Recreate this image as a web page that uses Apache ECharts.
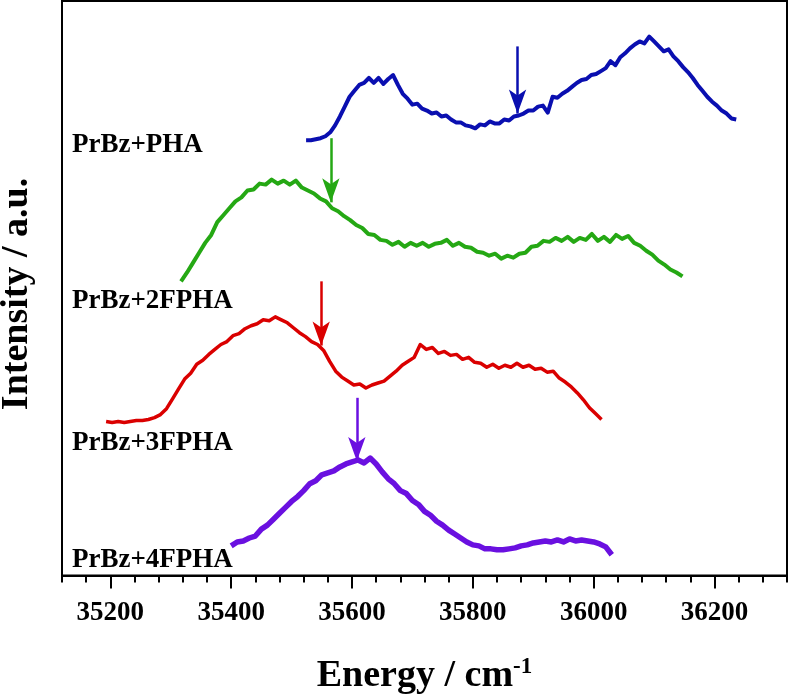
<!DOCTYPE html>
<html>
<head>
<meta charset="utf-8">
<script src="https://cdn.jsdelivr.net/npm/echarts@6/dist/echarts.min.js"></script>
<style>html,body{margin:0;padding:0;background:#fff}#c{width:791px;height:700px}</style>
</head>
<body>
<div id="c"></div>
<script>
// ---- data (energy in cm-1, intensity in arbitrary units, offset per trace) ----
const seriesNames = ['PrBz+PHA', 'PrBz+2FPHA', 'PrBz+3FPHA', 'PrBz+4FPHA'];
const seriesColors = ['#0a0fb0', '#25a814', '#da0000', '#6a10e0'];

const phaStart = 35524, phaStep = 8;
const phaI = [441,441,442,443,445,449,456,465,475,485,491,497,499,504,499,504,498,503,507,497,
  488,483,477,478,473,471,468,469,465,466,462,459,459,456,455,453,457,456,460,458,
  458,462,461,465,466,468,471,471,475,476,469,485,484,488,491,495,499,502,503,507,
  508,511,514,521,517,525,529,534,538,541,539,546,541,536,531,533,526,521,515,510,
  504,497,491,485,480,476,471,468,463,462];

const fpha2Start = 35317, fpha2Step = 10;
const fpha2I = [298,307,317,327,337,345,358,365,372,379,383,390,391,397,396,401,397,400,396,400,
  393,390,387,382,379,372,369,364,360,355,352,346,345,340,339,335,338,333,337,334,
  337,333,336,337,340,334,337,333,332,328,327,324,326,321,324,322,326,327,333,334,
  339,338,342,339,343,338,342,340,346,339,343,338,345,341,344,337,334,329,325,319,
  315,310,307,303];

const fpha3Start = 35193, fpha3Step = 10;
const fpha3I = [156,155,156,155,156,157,157,158,160,163,169,179,189,199,205,214,218,224,229,234,
  237,243,245,250,253,255,259,258,262,259,256,251,246,242,237,234,228,217,207,201,
  197,193,194,190,193,195,197,202,207,213,217,221,234,229,231,225,227,223,224,219,
  221,216,215,211,214,210,213,211,215,211,213,209,210,206,207,200,196,191,185,178,
  170,164,158];

const fpha4Start = 35400, fpha4Step = 10;
const fpha4I = [30,34,35,38,40,47,51,57,63,69,75,80,86,93,96,102,104,106,110,113,
  115,117,114,119,113,105,98,93,86,83,76,72,65,61,55,51,46,42,38,34,
  31,30,27,27,26,26,27,28,30,31,33,34,35,34,36,34,37,35,36,35,
  34,32,29,21];

// arrows: energy position, start (top) and tip intensity
const arrowE = [35874, 35565, 35549, 35608];
const arrowTop = [536, 443, 298, 180];
const arrowTip = [468, 378, 233, 116];

const majorTicks = [35200, 35400, 35600, 35800, 36000, 36200];
const xMin = 35120, xMax = 36320, minorStep = 40;
const yMin = 0, yMax = 582;

// label positions (pixels) for trace names
const labelY = [145, 301, 443, 560];

// ---- build ----
function pairs(start, step, arr) { return arr.map((v, i) => [start + i * step, v]); }
const traces = [
  pairs(phaStart, phaStep, phaI),
  pairs(fpha2Start, fpha2Step, fpha2I),
  pairs(fpha3Start, fpha3Step, fpha3I),
  pairs(fpha4Start, fpha4Step, fpha4I)
];
const widths = [4, 4, 3.5, 5.5];
const FONT = '"Liberation Serif","Times New Roman",serif';

const chart = echarts.init(document.getElementById('c'), null, {renderer: 'canvas'});
const series = traces.map((d, k) => ({
  type: 'line', name: seriesNames[k], data: d, showSymbol: false, symbol: 'none',
  xAxisIndex: 0, yAxisIndex: 0,
  lineStyle: {color: seriesColors[k], width: widths[k], join: 'round'}, itemStyle: {color: seriesColors[k]},
  animation: false, silent: true,
  markLine: {
    silent: true, animation: false,
    symbol: ['none', 'arrow'], symbolSize: [13, 24],
    label: {show: false},
    lineStyle: {color: seriesColors[k], width: 2.5, type: 'solid'},
    emphasis: {disabled: true},
    data: [[{coord: [arrowE[k], arrowTop[k]]}, {coord: [arrowE[k], arrowTip[k]]}]]
  }
}));

chart.setOption({
  animation: false,
  backgroundColor: '#fff',
  grid: {left: 62, right: 4, top: 1, bottom: 117, show: true, borderColor: '#000', borderWidth: 2, backgroundColor: 'transparent'},
  xAxis: [{
    type: 'value', min: xMin, max: xMax, interval: minorStep,
    axisLine: {show: true, lineStyle: {color: '#000', width: 2}},
    axisTick: {show: true, inside: false, length: 7, lineStyle: {color: '#000', width: 2}},
    splitLine: {show: false},
    axisLabel: {
      margin: 24, color: '#000', fontFamily: FONT, fontWeight: 'bold', fontSize: 27,
      formatter: v => (v % 200 === 0 && v >= 35200 && v <= 36200) ? String(v) : ''
    },
    name: '{a|Energy / cm}{s|-1}', nameLocation: 'middle', nameGap: 80,
    nameTextStyle: {rich: {
      a: {fontFamily: FONT, fontWeight: 'bold', fontSize: 38, color: '#000'},
      s: {fontFamily: FONT, fontWeight: 'bold', fontSize: 23, color: '#000', verticalAlign: 'top', padding: [0,0,18,0]}
    }}
  }, {
    type: 'value', min: xMin, max: xMax, position: 'bottom', gridIndex: 0,
    axisLine: {show: false},
    axisTick: {show: true, length: 13, customValues: majorTicks, lineStyle: {color: '#000', width: 2}},
    axisLabel: {show: false},
    splitLine: {show: false}
  }],
  yAxis: {
    type: 'value', min: yMin, max: yMax,
    axisLine: {show: true, lineStyle: {color: '#000', width: 2}},
    axisTick: {show: false}, axisLabel: {show: false}, splitLine: {show: false}
  },
  graphic: [
    {type: 'text', x: 17, y: 294, rotation: Math.PI / 2,
      style: {text: 'Intensity / a.u.', fontFamily: FONT, fontWeight: 'bold', fontSize: 38, fill: '#000', align: 'center', verticalAlign: 'middle'}},
  ].concat(seriesNames.map((n, k) => ({
    type: 'text', x: 72, y: labelY[k],
    style: {text: n, fontFamily: FONT, fontWeight: 'bold', fontSize: 27, fill: '#000', align: 'left', verticalAlign: 'middle'}
  }))),
  series: series
});
</script>
</body>
</html>
